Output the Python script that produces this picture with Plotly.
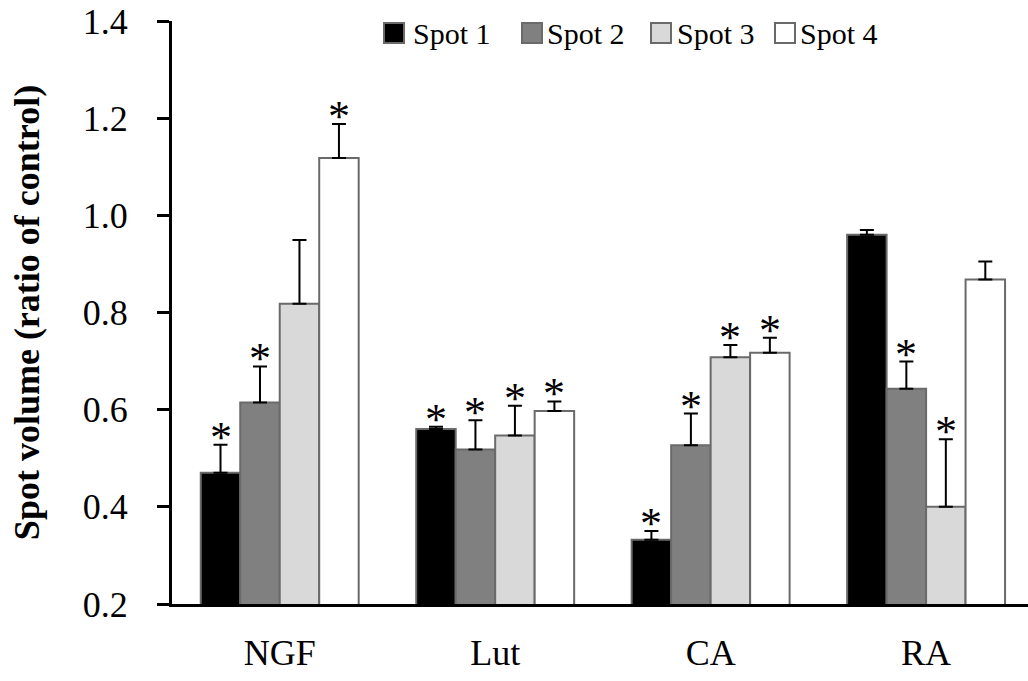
import plotly.graph_objects as go

# ---- data ----
categories = ["NGF", "Lut", "CA", "RA"]
series_names = ["Spot 1", "Spot 2", "Spot 3", "Spot 4"]

spot1 = [0.470, 0.560, 0.332, 0.960]
spot2 = [0.615, 0.518, 0.527, 0.643]
spot3 = [0.818, 0.547, 0.708, 0.400]
spot4 = [1.118, 0.597, 0.717, 0.868]

spot1_err = [0.058, 0.005, 0.018, 0.010]
spot2_err = [0.074, 0.060, 0.065, 0.056]
spot3_err = [0.131, 0.061, 0.025, 0.139]
spot4_err = [0.070, 0.020, 0.031, 0.037]

# significance markers (asterisks) per bar
spot1_sig = [True, True, True, False]
spot2_sig = [True, True, True, True]
spot3_sig = [False, True, True, True]
spot4_sig = [True, True, True, False]

y_ticks = [0.2, 0.4, 0.6, 0.8, 1.0, 1.2, 1.4]
y_title = "Spot volume (ratio of control)"

# ---- styling ----
values = [spot1, spot2, spot3, spot4]
errors = [spot1_err, spot2_err, spot3_err, spot4_err]
signif = [spot1_sig, spot2_sig, spot3_sig, spot4_sig]
fills = ["#000000", "#808080", "#d9d9d9", "#ffffff"]
outline = "#6a6a6a"
serif = "Liberation Serif, Times New Roman, serif"

W, H = 1028, 681
M_L, M_R, M_T, M_B = 172, 0, 21, 77
BARGAP = 0.267
n_series = len(values)
bar_w = (1 - BARGAP) / n_series
xs = list(range(len(categories)))

fig = go.Figure()
for name, vals, errs, col in zip(series_names, values, errors, fills):
    fig.add_trace(go.Bar(
        name=name, x=xs, y=vals,
        marker=dict(color=col, line=dict(color=outline, width=2)),
        error_y=dict(type="data", array=errs, symmetric=False,
                     arrayminus=[0] * len(errs),
                     color="#000000", thickness=2, width=7),
        showlegend=False,
    ))

# asterisks above the error caps of significant bars
annotations = []
for j, (vals, errs, sig) in enumerate(zip(values, errors, signif)):
    for i, (v, e, s) in enumerate(zip(vals, errs, sig)):
        if s:
            annotations.append(dict(
                x=i + (j - (n_series - 1) / 2) * bar_w, y=v + e,
                xref="x", yref="y", text="*", showarrow=False,
                yanchor="bottom", yshift=-19,
                font=dict(family=serif, size=44, color="#000000"),
            ))

# legend drawn as swatches + labels across the top
plot_w = W - M_L - M_R
plot_h = H - M_T - M_B


def px_x(p):
    return (p - M_L) / plot_w


def px_y(p):
    return (H - M_B - p) / plot_h


legend_swatch_left = [384, 522, 651, 775]
legend_text_left = [411, 545, 675, 798]
swatch = 20
legend_mid = 33
shapes = []
for name, col, sx, tx in zip(series_names, fills, legend_swatch_left, legend_text_left):
    shapes.append(dict(
        type="rect", xref="paper", yref="paper",
        x0=px_x(sx), x1=px_x(sx + swatch),
        y0=px_y(legend_mid + swatch / 2), y1=px_y(legend_mid - swatch / 2),
        fillcolor=col, line=dict(color=outline, width=2),
    ))
    annotations.append(dict(
        x=px_x(tx), y=px_y(legend_mid + 1), xref="paper", yref="paper",
        xanchor="left", yanchor="middle", text=name, showarrow=False,
        font=dict(family=serif, size=30, color="#000000"),
    ))

fig.update_layout(
    width=W, height=H,
    margin=dict(l=M_L, r=M_R, t=M_T, b=M_B, pad=0),
    paper_bgcolor="#ffffff", plot_bgcolor="#ffffff",
    barmode="group", bargap=BARGAP, bargroupgap=0,
    font=dict(family=serif, color="#000000"),
    annotations=annotations, shapes=shapes,
    xaxis=dict(
        range=[-0.5, 3.473], tickvals=xs, ticktext=categories,
        showline=True, linecolor="#000000", linewidth=3,
        ticks="", showgrid=False, zeroline=False,
        tickfont=dict(family=serif, size=36, color="#000000"),
        ticklabelstandoff=15,
    ),
    yaxis=dict(
        range=[0.2, 1.4], tickvals=y_ticks,
        ticktext=[f"{t:.1f}" for t in y_ticks],
        showline=True, linecolor="#000000", linewidth=3,
        ticks="outside", ticklen=12, tickwidth=3, tickcolor="#000000",
        showgrid=False, zeroline=False,
        tickfont=dict(family=serif, size=36, color="#000000"),
        ticklabelstandoff=22,
        title=dict(text="<b>" + y_title + "</b>", standoff=33,
                   font=dict(family=serif, size=36, color="#000000")),
    ),
)

fig.write_html("out.html")
